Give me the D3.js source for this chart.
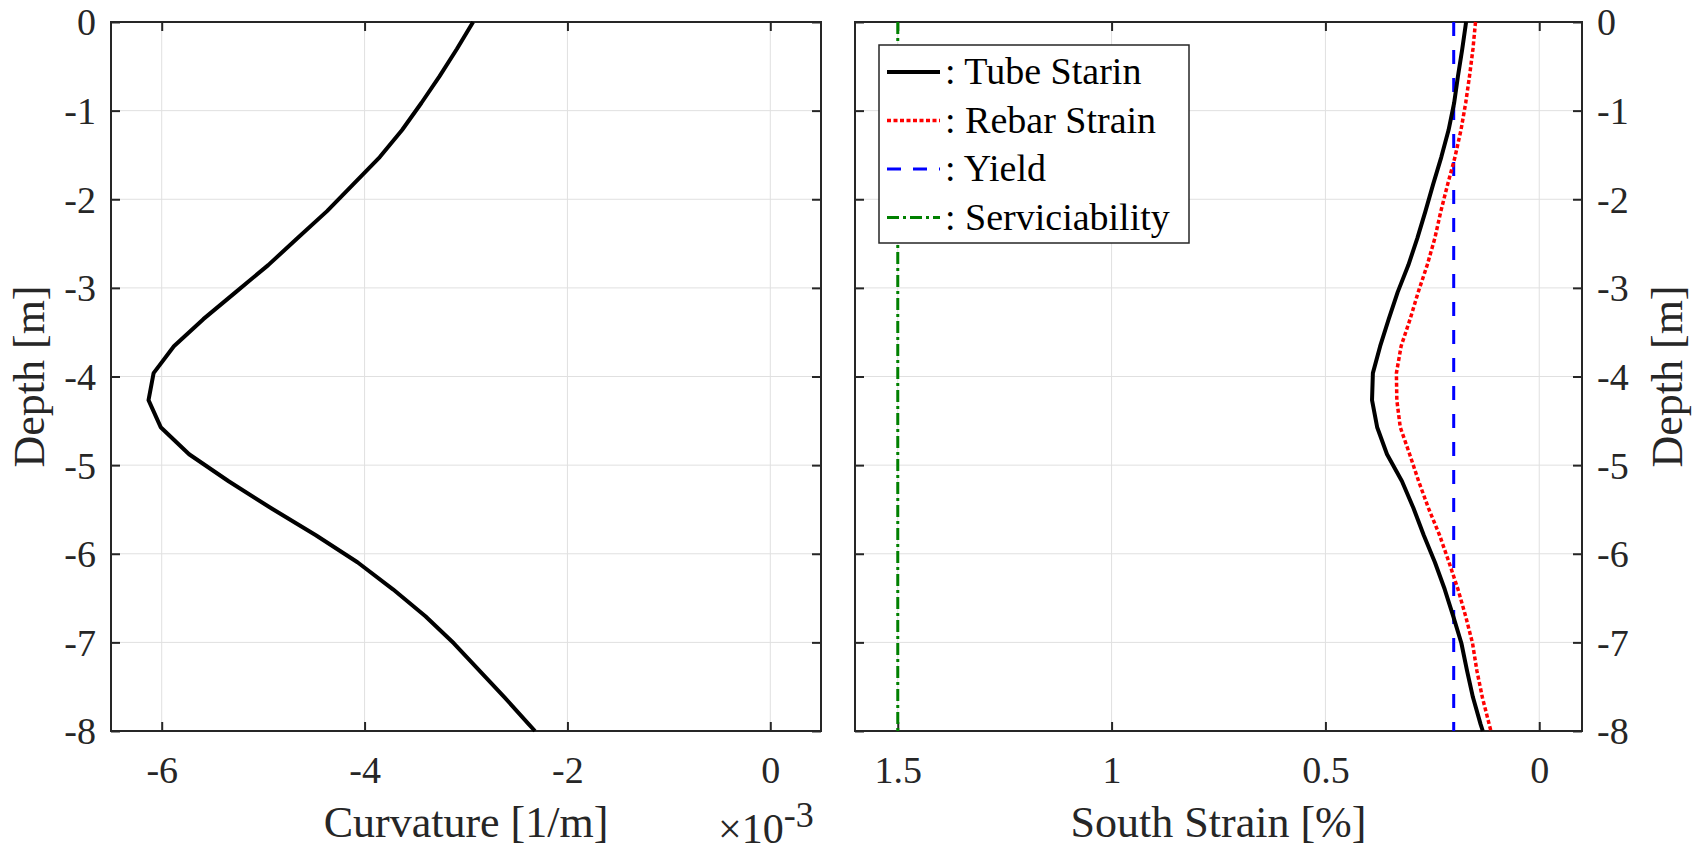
<!DOCTYPE html>
<html>
<head>
<meta charset="utf-8">
<script src="https://cdn.jsdelivr.net/npm/d3@7"></script>
<style>
  html, body { margin: 0; padding: 0; background: #fff; }
  svg { display: block; }
  text { font-family: "Liberation Serif", "Times New Roman", serif; fill: #262626; }
</style>
</head>
<body>
<svg id="chart" width="1702" height="852"></svg>
<script>
// Depth stations (m), one every foot down the pile, plus the toe at -8 m
const depth = [0, -0.305, -0.610, -0.914, -1.219, -1.524, -1.829, -2.134, -2.438, -2.743,
  -3.048, -3.353, -3.658, -3.962, -4.267, -4.572, -4.877, -5.182, -5.486, -5.791,
  -6.096, -6.401, -6.706, -7.010, -7.315, -7.620, -7.925, -8.0];

// Curvature, in units of 1e-3 1/m
const curvature = [-2.93, -3.09, -3.26, -3.44, -3.63, -3.85, -4.11, -4.37, -4.66, -4.95,
  -5.27, -5.59, -5.88, -6.08, -6.13, -6.01, -5.73, -5.34, -4.92, -4.48,
  -4.07, -3.72, -3.40, -3.12, -2.87, -2.62, -2.38, -2.32];

// South face strains (%)
const tubeStrain = [0.171, 0.180, 0.190, 0.199, 0.212, 0.229, 0.248, 0.266, 0.285, 0.306,
  0.331, 0.352, 0.372, 0.389, 0.391, 0.379, 0.356, 0.321, 0.294, 0.270,
  0.244, 0.221, 0.201, 0.182, 0.169, 0.155, 0.137, 0.132];
const rebarStrain = [0.149, 0.155, 0.163, 0.172, 0.183, 0.197, 0.214, 0.230, 0.244, 0.262,
  0.283, 0.302, 0.323, 0.334, 0.333, 0.325, 0.303, 0.282, 0.259, 0.233,
  0.211, 0.190, 0.172, 0.156, 0.146, 0.133, 0.117, 0.113];

// Reference strain limits (%)
const yieldStrain = 0.2;
const serviceStrain = 1.5;

// Tick values
const depthTicks = [0, -1, -2, -3, -4, -5, -6, -7, -8];
const curvTicks = [-6, -4, -2, 0];
const strainTicks = [1.5, 1, 0.5, 0];

const legendItems = [
  { label: ": Tube Starin", color: "#000000", width: 4, dash: null },
  { label: ": Rebar Strain", color: "#ff0000", width: 3.5, dash: "4,2.5" },
  { label: ": Yield", color: "#0000ff", width: 3, dash: "14,12" },
  { label: ": Serviciability", color: "#008000", width: 3, dash: "12,4,3,4" }
];

const svg = d3.select("#chart");
const axisColor = "#262626";
const gridColor = "#e0e0e0";
const tickFont = 38;
const labelFont = 44;
const plain = d => String(d);   // hyphen-minus, as in the printed figure

const yTop = 22, yBottom = 731;
const y = d3.scaleLinear().domain([0, -8]).range([yTop, yBottom]);

const xL = d3.scaleLinear().domain([-6.5, 0.5]).range([111, 821]);
const xR = d3.scaleLinear().domain([1.6, -0.1]).range([855, 1582]);

function panel(x, xTicks, yLabelsSide) {
  const [x0, x1] = x.range();
  const g = svg.append("g");

  // grid
  g.selectAll(".gx").data(xTicks).join("line")
    .attr("x1", d => x(d)).attr("x2", d => x(d))
    .attr("y1", yTop).attr("y2", yBottom)
    .attr("stroke", gridColor).attr("stroke-width", 1);
  g.selectAll(".gy").data(depthTicks).join("line")
    .attr("x1", x0).attr("x2", x1)
    .attr("y1", d => y(d)).attr("y2", d => y(d))
    .attr("stroke", gridColor).attr("stroke-width", 1);

  const styleAxis = sel => {
    sel.attr("font-family", null);
    sel.select(".domain").remove();
    sel.selectAll(".tick line").attr("stroke", axisColor).attr("stroke-width", 2);
    sel.selectAll(".tick text").attr("font-size", tickFont).attr("fill", axisColor)
      .style("font-family", '"Liberation Serif", "Times New Roman", serif');
  };

  // bottom axis with labels
  const bottom = g.append("g").attr("transform", `translate(0,${yBottom})`)
    .call(d3.axisBottom(x).tickValues(xTicks).tickSize(-9).tickFormat(plain));
  styleAxis(bottom);
  bottom.selectAll(".tick text").attr("y", 52).attr("dy", null);

  // top axis, ticks only
  const top = g.append("g").attr("transform", `translate(0,${yTop})`)
    .call(d3.axisTop(x).tickValues(xTicks).tickSize(-9).tickFormat(""));
  styleAxis(top);

  // left / right axes
  const left = g.append("g").attr("transform", `translate(${x0},0)`)
    .call(d3.axisLeft(y).tickValues(depthTicks).tickSize(-9).tickPadding(15)
      .tickFormat(yLabelsSide === "left" ? plain : ""));
  styleAxis(left);
  left.selectAll(".tick text").attr("dy", "0.34em");

  const right = g.append("g").attr("transform", `translate(${x1},0)`)
    .call(d3.axisRight(y).tickValues(depthTicks).tickSize(-9).tickPadding(15)
      .tickFormat(yLabelsSide === "right" ? plain : ""));
  styleAxis(right);
  right.selectAll(".tick text").attr("dy", "0.34em");

  // box
  g.append("rect").attr("x", x0).attr("y", yTop)
    .attr("width", x1 - x0).attr("height", yBottom - yTop)
    .attr("fill", "none").attr("stroke", axisColor).attr("stroke-width", 2);

  return g;
}

// ---- Left panel: curvature ----
const gL = panel(xL, curvTicks, "left");
const lineL = d3.line().x(d => xL(d[0])).y(d => y(d[1]));
gL.append("path")
  .datum(curvature.map((c, i) => [c, depth[i]]))
  .attr("d", lineL).attr("fill", "none")
  .attr("stroke", "#000").attr("stroke-width", 4).attr("stroke-linejoin", "round");

svg.append("text").attr("x", (xL.range()[0] + xL.range()[1]) / 2).attr("y", 837)
  .attr("text-anchor", "middle").attr("font-size", labelFont).text("Curvature [1/m]");

svg.append("text").attr("transform", `translate(44,${(yTop + yBottom) / 2}) rotate(-90)`)
  .attr("text-anchor", "middle").attr("font-size", labelFont).text("Depth [m]");

// axis multiplier
const expo = svg.append("text").attr("x", 718).attr("y", 843).attr("font-size", 42);
expo.append("tspan").text("\u00d710");
expo.append("tspan").attr("dy", -16).attr("font-size", 36).text("-3");

// ---- Right panel: strains ----
const gR = panel(xR, strainTicks, "right");
const lineR = d3.line().x(d => xR(d[0])).y(d => y(d[1]));

gR.append("line")
  .attr("x1", xR(serviceStrain)).attr("x2", xR(serviceStrain))
  .attr("y1", yTop).attr("y2", yBottom)
  .attr("stroke", "#008000").attr("stroke-width", 3).attr("stroke-dasharray", "12,4,3,4");

gR.append("line")
  .attr("x1", xR(yieldStrain)).attr("x2", xR(yieldStrain))
  .attr("y1", yTop).attr("y2", yBottom)
  .attr("stroke", "#0000ff").attr("stroke-width", 3).attr("stroke-dasharray", "14,14");

gR.append("path")
  .datum(tubeStrain.map((s, i) => [s, depth[i]]))
  .attr("d", lineR).attr("fill", "none")
  .attr("stroke", "#000").attr("stroke-width", 4).attr("stroke-linejoin", "round");

gR.append("path")
  .datum(rebarStrain.map((s, i) => [s, depth[i]]))
  .attr("d", lineR).attr("fill", "none")
  .attr("stroke", "#ff0000").attr("stroke-width", 3.5).attr("stroke-dasharray", "4,2.5");

svg.append("text").attr("x", (xR.range()[0] + xR.range()[1]) / 2).attr("y", 837)
  .attr("text-anchor", "middle").attr("font-size", labelFont).text("South Strain [%]");

svg.append("text").attr("transform", `translate(1682,${(yTop + yBottom) / 2}) rotate(-90)`)
  .attr("text-anchor", "middle").attr("font-size", labelFont).text("Depth [m]");

// ---- Legend ----
const leg = svg.append("g").attr("transform", "translate(879,45)");
leg.append("rect").attr("width", 310).attr("height", 198)
  .attr("fill", "#fff").attr("stroke", axisColor).attr("stroke-width", 1.5);
const rows = leg.selectAll(".row").data(legendItems).join("g")
  .attr("transform", (d, i) => `translate(0,${27 + i * 48.5})`);
rows.append("line").attr("x1", 8).attr("x2", 61).attr("y1", 0).attr("y2", 0)
  .attr("stroke", d => d.color).attr("stroke-width", d => d.width)
  .attr("stroke-dasharray", d => d.dash);
rows.append("text").attr("x", 66).attr("y", 12).attr("font-size", 38)
  .style("fill", "#000").text(d => d.label);
</script>
</body>
</html>
